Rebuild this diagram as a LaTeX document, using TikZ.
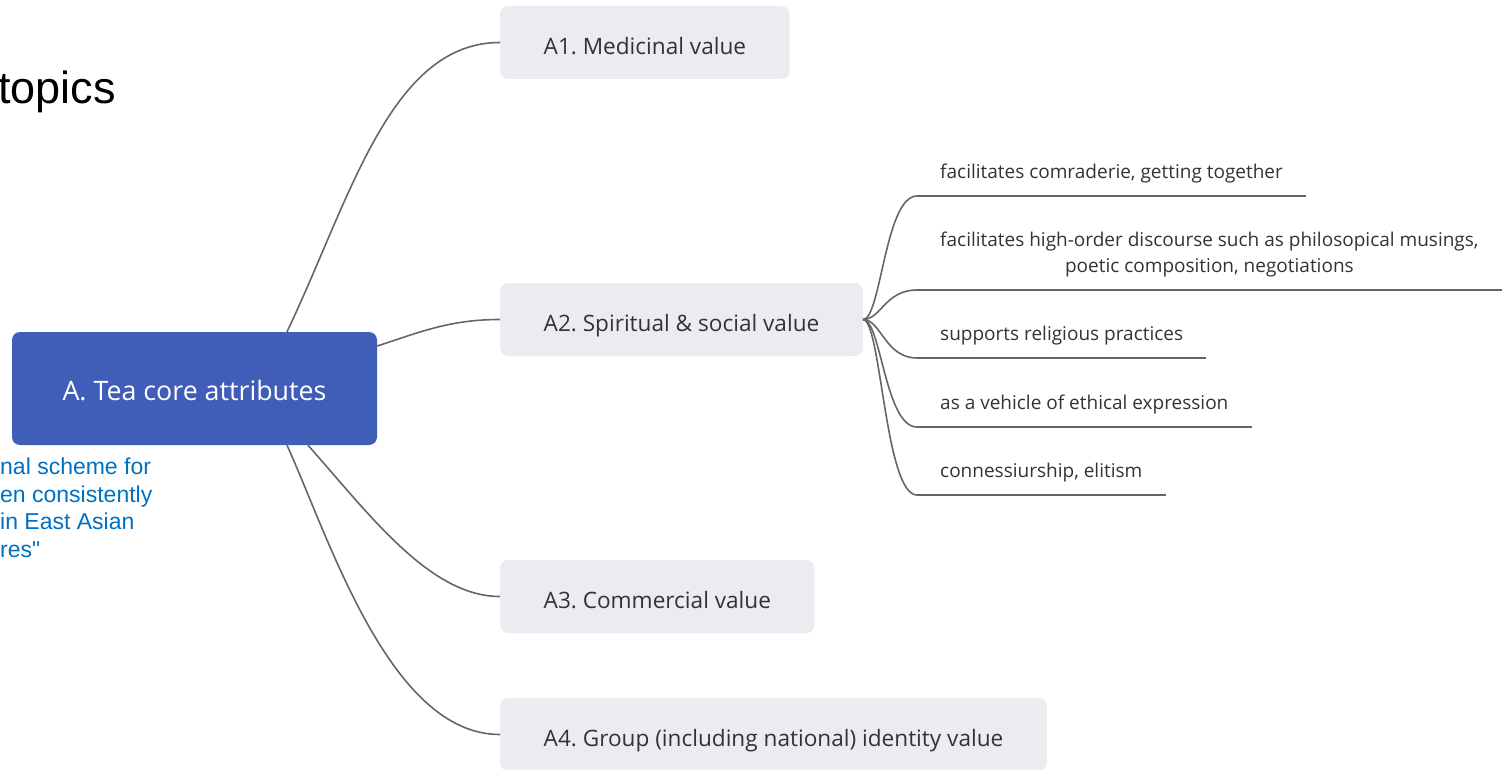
\documentclass[tikz,border=0pt]{standalone}
\usepackage{fontspec}
\setmainfont{Open Sans}
\newfontfamily\arialfont{Liberation Sans}
\frenchspacing

\definecolor{rootblue}{HTML}{405DB8}
\definecolor{boxgray}{HTML}{EBECF0}
\definecolor{linegray}{HTML}{666666}
\definecolor{textgray}{HTML}{333333}
\definecolor{noteblue}{HTML}{0070C0}

\tikzset{
  topicbox/.style={fill=boxgray, rounded corners=8pt, anchor=west, minimum height=73pt,
    inner xsep=43.5pt, text height=26pt, text depth=2pt, text=textgray,
    font=\fontsize{22.6}{27}\selectfont},
  leaf/.style={anchor=south west, inner xsep=23pt, inner ysep=0pt, text depth=17pt,
    align=center, text=textgray, font=\fontsize{19}{26.7}\selectfont},
  branch/.style={draw=linegray, line width=1.6pt},
}

\begin{document}
\begin{tikzpicture}[x=1pt,y=-1pt]
  \useasboundingbox (0,0) rectangle (1505,770);

  % Cut-off title and note on the left
  \node[font=\arialfont\fontsize{45}{50}\selectfont, anchor=base east, inner sep=0pt] (title) at (116,104) {topics};
  \node[font=\arialfont\fontsize{23}{27.7}\selectfont, text=noteblue, align=left,
    anchor=north west, inner sep=0pt] (note) at (0,457.5) {nal scheme for\\en consistently\\in East Asian\\res"};

  % Central topic
  \node[fill=rootblue, rounded corners=8pt, minimum width=365pt, minimum height=113pt,
    text height=23.5pt, text depth=0pt, text=white, font=\fontsize{26.8}{30}\selectfont]
    (root) at (194.5,388.5) {A. Tea core attributes};

  % Main topics
  \node[topicbox] (a1) at (500,42.5) {A1. Medicinal value};
  \node[topicbox] (a2) at (500,319.5) {A2. Spiritual \& social value};
  \node[topicbox] (a3) at (500,596.5) {A3. Commercial value};
  \node[topicbox] (a4) at (500,734.5) {A4. Group (including national) identity value};

  % Subtopics of A2
  \node[leaf] (s1) at (917,196) {facilitates comraderie, getting together};
  \node[leaf] (s2) at (917,290) {facilitates high-order discourse such as philosopical musings,\\poetic composition, negotiations};
  \node[leaf] (s3) at (917,358) {supports religious practices};
  \node[leaf] (s4) at (917,427) {as a vehicle of ethical expression};
  \node[leaf] (s5) at (917,495) {connessiurship, elitism};

  % Branches from the central topic
  \draw[branch] ([xshift=92.5pt]root.north) .. controls +(63,-132) and +(-110,0) .. (a1.west);
  \draw[branch] ([yshift=42.5pt]root.east) .. controls +(43,-14) and +(-50,0) .. (a2.west);
  \draw[branch] ([xshift=113.5pt]root.south) .. controls +(62,70) and +(-70,0) .. (a3.west);
  \draw[branch] ([xshift=92.5pt]root.south) .. controls +(43,95) and +(-110,0) .. (a4.west);

  % Branches and underlines of the subtopics
  \foreach \s in {s1,s2,s3,s4,s5} {
    \draw[branch] (a2.east) .. controls +(18,0) and +(-32,0) .. (\s.south west);
    \draw[branch] (\s.south west) -- (\s.south east);
  }
\end{tikzpicture}
\end{document}
